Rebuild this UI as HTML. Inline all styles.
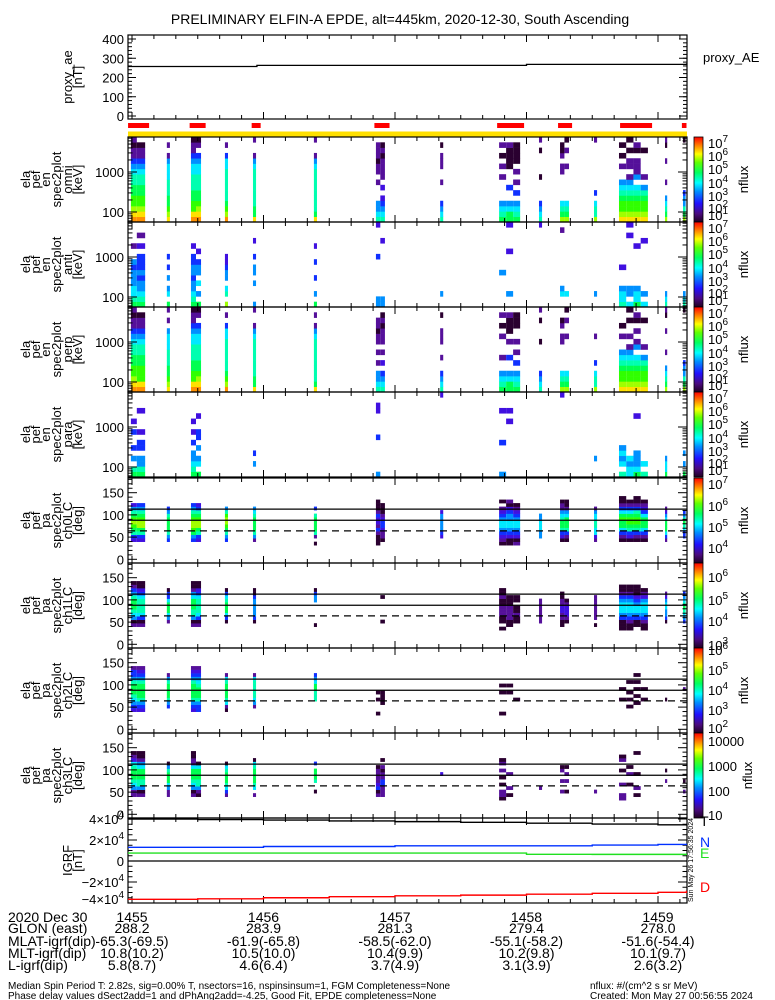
<!DOCTYPE html>
<html><head><meta charset="utf-8"><style>
html,body{margin:0;padding:0;background:#fff;}
svg{display:block;font-family:"Liberation Sans",sans-serif;}
</style></head><body>
<svg id="chart" width="775" height="1000" viewBox="0 0 775 1000" xmlns="http://www.w3.org/2000/svg">
<defs>
<linearGradient id="cbar" x1="0" y1="1" x2="0" y2="0">
<stop offset="0" stop-color="#200020"/><stop offset="0.1" stop-color="#4a0a80"/><stop offset="0.22" stop-color="#2010ff"/><stop offset="0.36" stop-color="#0090ff"/><stop offset="0.46" stop-color="#00ffff"/><stop offset="0.58" stop-color="#00ff60"/><stop offset="0.7" stop-color="#60ff00"/><stop offset="0.8" stop-color="#ffff00"/><stop offset="0.9" stop-color="#ff8000"/><stop offset="1" stop-color="#ff0000"/>
</linearGradient>
</defs>
<text x="400" y="24" font-size="14" text-anchor="middle">PRELIMINARY ELFIN-A EPDE, alt=445km, 2020-12-30, South Ascending</text>
<g id="g"></g>
</svg>
<script>
// ---- data ----
const aeTimes = [-2, 57, 180, 253];
const aeValues = [257, 263, 268, 270];
const redBarStart = [-1.8, 26.3, 54.6, 110.6, 166.6, 194.4, 222.7, 250.9];
const redBarEnd = [7.8, 33.6, 58.7, 117.5, 178.9, 200.8, 237.3, 253];
const colStart = [-0.5,2.2,15.9,26.9,29.2,42.4,55.2,83.0,111.3,113.3,140.6,167.5,170.7,173.9,185.7,195.3,197.3,210.8,222.2,225.5,228.8,232.1,243.2,251.4];
const colDur = [2.7,3.8,1.4,2.3,2.3,1.4,1.4,1.4,2.0,2.1,1.4,3.2,3.2,3.2,1.4,2.0,2.1,1.4,3.3,3.3,3.3,3.3,1.0,1.2];
const omniLevels = ["cba9988776542212","cba998877654221.","ba98877766652.2.","cb99887776654221","cba9887776654.21","ca98777777664.2.","b887777777652..2","b877777777652..2","7655...2.221222.","76543.3.2222121.","7654...2..222.1.","8765....2.2.1.2.","8865..4...11112.","8765.4.2.2.1111.","7654....1....1.2","a876.....22.211.","a876......2..2.1","a776.4.........2","ba998765..2.1.1.","ba9987652.22.1.1","ba99876.5222.12.","ba99875.2....1..","a8765..2...2..12","a87554.........1"];
const antiLevels = ["876655545..2....","8765545444.3.2..","8.65.5.4.4......","8765545544.3....","8.5.6.554.3.....","a.76.55433......","5...5.55.4..3...","8.5..4..4..3....","55.......4.....3","55..........3...","..5.............","......5.........","..5.......3....3","................","...............3","..65..........2.","..6.............","..5.............","7665...3........","6.55.........3.3","8665.......3....","6.5.........3...","765.............","765............."];
const perpLevels = ["cba9988776542212","cb9998877654221.","ba9887776665.2.2","cb99887776654221","cba9887776654.21","ca98777777664.2.","b887777777652..2","b877777777652.2.","7655.2.2.22122..","7654.3.2.222121.","7654..2..222..1.","8765..2...2.1.2.","8865..4..2.1112.","8765.4.2.2..111.","7654.....1...1.2","a876.....22.21..","a876......2..2.1","a776.4....2.....","ba998765..2.1...","ba9987652.2..1.1","ba99876.52.2.12.","ba99875.2....1..","a8765..2...2..12","a87554.........1"];
const paraLevels = ["87.5.4..4.3.....","8755.44.3...3...","................","87655.4.3.3.....","8.65.5.44..3....","................","..5.4...........","................","5......4....33..","................","...............3","5.....4.....3...","..........3.3...","................","................","...............3","................","...5............","7.6565..........","6656............","86555......3....","7.6.............","8665............","8.5.5..........."];
const ch0Levels = ["...34789a98753..","...3478aa98754..","...4578888754...","...4589aa98754..","...3478aa98743..","...45789aa975...","...2578888765...","..1.2788887.4...","..1112423342111.","...12234432111..","....34555553....","..12345665432.1.","..1134566554312.","..213456654321..","....5566655.....","...134788765221.","...124788865211.","...2366776652...","...1246889864211","...134789986421.","...1247899874211","...124688864321.","...2468886532...","....44678754...."];
const ch1Levels = ["...2156788875421","...2146777764311","....2568886441..","...2157788865211","...2146777764311","....1468887641..","....1455555411..","...1......5541..","................","....1......1....","................","..1.1122211211..","...112222111....","....11211.11....","....2222222.....","...1122332211...","....1233321.....","...1.2222222....","..1114566654211.","..1124566654211.","...114566543111.","..112456665321..","....145566532...","....456787654..."];
const ch2Levels = ["...3456788875442","...3457888875432","....4578888752..","...3457888875432","...4457888765432","...12678888762..","....2567777762..","......77788654..","..1...1.1.......",".....1111.......","................","..1.....1.1.....","........1.1.....","......1.........","................","................","................","................","......1..1......","....1.1.1..1....",".....1.1.1.1.1..","......1..1......","......1.........",".........2......"];
const ch3Levels = ["...2256788876321","...2157788865211","...2256888751...","...2156788862211","...1257788861...","...2467888761...","...2.678888761..","....1..7888.4...","...214322221....","...222442212.1..",".........3......","..122.1.1.2.21..","...1.2...2......","................",".....2..........","....2..2..21....","....1..2.2.1....","....2...........","..22..2...1..21.","......1..2.1....","...1.2...1.....1","................",".......2..1.....","....2..1........"];
const igrfTimes = [-2, 30, 60, 90, 120, 150, 180, 210, 240, 253];
const igrfT = [40000, 39500, 39000, 38200, 37500, 36800, 36000, 35200, 34500, 34300];
const igrfN = [13000, 13000, 13800, 13800, 14500, 14500, 14500, 15200, 15800, 15800];
const igrfE = [7600, 7600, 7600, 7600, 7600, 7600, 6400, 6300, 6300, 6300];
const igrfD = [-36500, -36000, -35000, -34000, -33200, -32500, -31600, -30800, -29800, -29000];
const timeTicks = [0, 60, 120, 180, 240];
const timeLabels = ["1455","1456","1457","1458","1459"];
const glon = ["288.2","283.9","281.3","279.4","278.0"];
const mlat = ["-65.3(-69.5)","-61.9(-65.8)","-58.5(-62.0)","-55.1(-58.2)","-51.6(-54.4)"];
const mlt = ["10.8(10.2)","10.5(10.0)","10.4(9.9)","10.2(9.8)","10.1(9.7)"];
const lval = ["5.8(8.7)","4.6(6.4)","3.7(4.9)","3.1(3.9)","2.6(3.2)"];

// ---- helpers ----
const NS = "http://www.w3.org/2000/svg";
const G = document.getElementById('g');
const X0 = 128, X1 = 687;
function xT(s){ return 132 + s/60*131.5; }
function mk(tag, attrs, parent){ const e = document.createElementNS(NS, tag); for (const k in attrs) e.setAttribute(k, attrs[k]); (parent||G).appendChild(e); return e; }
function txt(x,y,s,size,anchor,fill,parent){ const t = mk('text',{x:x,y:y,'font-size':size,'text-anchor':anchor||'start',fill:fill||'#000'},parent); t.textContent = s; return t; }
const LC = {'1':'#2a0030','2':'#55109a','3':'#4010e0','4':'#1030ff','5':'#0090ff','6':'#00e8ff','7':'#00ffb0','8':'#00ff50','9':'#30ff00','a':'#a0ff00','b':'#ffe000','c':'#ff9000','d':'#ff1010'};

function frame(top, bot, name){
  const g = mk('g',{});
  
  
  mk('rect',{x:X0,y:top,width:X1-X0,height:bot-top,fill:'none',stroke:'#000','stroke-width':1.2},g);
  for (let s=-0; s<=253; s+=10){
    const x = xT(s); if (x<X0||x>X1) continue;
    const L = (s%60===0)?7:4;
    mk('line',{x1:x,y1:bot,x2:x,y2:bot-L,stroke:'#000'},g);
    mk('line',{x1:x,y1:top,x2:x,y2:top+L,stroke:'#000'},g);
  }
  return g;
}
function ylabel(lines, top, bot, name){
  const g = mk('g',{});
  
  
  const cy = (top+bot)/2;
  const xs = [30,40,50,61,72,82];
  const off = xs.length - lines.length;
  lines.forEach((l,i)=>{
    const x = xs[i+off];
    const t = txt(0,0,l,13,'middle','#000',g);
    t.setAttribute('transform','translate('+x+','+cy+') rotate(-90)');
  });
}
function cbar(top, bot, labels, offs, name){
  const g = mk('g',{});
  
  
  mk('rect',{x:694,y:top,width:9,height:bot-top,fill:'url(#cbar)',stroke:'#000','stroke-width':0.8},g);
  labels.forEach((l,i)=>{
    const y = top + offs[i];
    const t = txt(708,y+5,'',13,'start','#000',g);
    if (l.indexOf('^')>=0){
      const p = l.split('^');
      const a = document.createElementNS(NS,'tspan'); a.textContent = p[0]; t.appendChild(a);
      const b = document.createElementNS(NS,'tspan'); b.textContent = p[1]; b.setAttribute('dy','-6'); b.setAttribute('font-size','10'); t.appendChild(b);
    } else t.textContent = l;
  });
  const n = txt(0,0,'nflux',13,'middle','#000',g);
  n.setAttribute('transform','translate('+(name.indexOf('ch3')>=0?752:748)+','+((top+bot)/2)+') rotate(-90)');
}

// ---- proxy AE ----
(function(){
  const top=35, bot=119;
  const yA = v => 116 - v*0.1925;
  frame(top,bot,'proxy-ae-panel');
  [0,100,200,300,400].forEach(v=>{ txt(124,yA(v)+5,String(v),13,'end'); mk('line',{x1:X0,y1:yA(v),x2:X0+8,y2:yA(v),stroke:'#000'}); mk('line',{x1:X1,y1:yA(v),x2:X1-8,y2:yA(v),stroke:'#000'}); });
  for (let v=0; v<=400; v+=20){ mk('line',{x1:X0,y1:yA(v),x2:X0+4,y2:yA(v),stroke:'#000'}); mk('line',{x1:X1,y1:yA(v),x2:X1-4,y2:yA(v),stroke:'#000'}); }
  let d='';
  aeTimes.forEach((t,i)=>{ const x=Math.max(X0,Math.min(X1,xT(t))); const y=yA(aeValues[i]); if(i===0) d+='M'+x+','+y; else { d+='H'+x+'V'+y; } });
  d += 'H'+X1;
  const p = mk('path',{d:d,fill:'none',stroke:'#000','stroke-width':1.3});
  
  
  ylabel(['proxy_ae','[nT]'],top,bot,'proxy-ae-axis-title');
  txt(703,62,'proxy_AE',13,'start');
})();

// ---- red/yellow bars ----
redBarStart.forEach((s,i)=>{
  const x = Math.max(X0,xT(s)), x2 = Math.min(X1,xT(redBarEnd[i]));
  const r = mk('rect',{x:x,y:123,width:x2-x,height:5,fill:'#ff0000'});
  
  
});
(function(){ const r = mk('rect',{x:X0,y:131.5,width:X1-X0,height:5,fill:'#ffe000'});
  
   })();

// ---- energy panels ----
function energyPanel(top, levels, name, title){
  const bot = top+85;
  const yE = lg => bot - (lg-1.75)*40;
  const g = mk('g',{});
  
  
  const nb = 16, dl = (3.875-1.75)/nb;
  levels.forEach((str,ci)=>{
    const x = xT(colStart[ci]), w = xT(colStart[ci]+colDur[ci]) - x;
    for (let b=0;b<nb;b++){
      const c = str[b]; if (!c || c==='.') continue;
      const y1 = yE(1.75+(b+1)*dl), y2 = yE(1.75+b*dl);
      mk('rect',{x:x.toFixed(2),y:y1.toFixed(2),width:w.toFixed(2),height:(y2-y1+0.3).toFixed(2),fill:LC[c]},g);
    }
  });
  frame(top,bot,name+'-frame');
  [100,1000].forEach(v=>{ txt(124,yE(Math.log10(v))+5,String(v),13,'end'); });
  for (let dec=1; dec<=3; dec++) for (let m=1;m<10;m++){
    const lg = dec+Math.log10(m); if (lg<1.75||lg>3.875) continue;
    const L = m===1?9:4.5;
    mk('line',{x1:X0,y1:yE(lg),x2:X0+L,y2:yE(lg),stroke:'#000'});
    mk('line',{x1:X1,y1:yE(lg),x2:X1-L,y2:yE(lg),stroke:'#000'});
  }
  ylabel(['ela','pef','en','spec2plot',title,'[keV]'],top,bot,name+'-axis-title');
  cbar(top,bot,['10^7','10^6','10^5','10^4','10^3','10^2','10^1'],[6,19,32,46,59,71,78],name+'-colorbar');
}
energyPanel(137, omniLevels, 'omni-spectrogram','omni');
energyPanel(222, antiLevels, 'anti-spectrogram','anti');
energyPanel(307, perpLevels, 'perp-spectrogram','perp');
energyPanel(392, paraLevels, 'para-spectrogram','para');

// ---- pitch angle panels ----
const PA0 = 16, PAW = 7.9;
function paPanel(top, levels, name, title, cbl, cbo){
  const bot = top+85;
  const yP = d => top + 81.3 - d*0.444;
  const g = mk('g',{});
  
  
  levels.forEach((str,ci)=>{
    const x = xT(colStart[ci]), w = xT(colStart[ci]+colDur[ci]) - x;
    for (let b=0;b<16;b++){
      const c = str[b]; if (!c || c==='.') continue;
      const y1 = yP(PA0+(b+1)*PAW), y2 = yP(PA0+b*PAW);
      mk('rect',{x:x.toFixed(2),y:y1.toFixed(2),width:w.toFixed(2),height:(y2-y1+0.3).toFixed(2),fill:LC[c]},g);
    }
  });
  mk('line',{x1:X0,y1:yP(113),x2:X1,y2:yP(113),stroke:'#000','stroke-width':1.2});
  mk('line',{x1:X0,y1:yP(88),x2:X1,y2:yP(88),stroke:'#000','stroke-width':1.2});
  mk('line',{x1:X0,y1:yP(64),x2:X1,y2:yP(64),stroke:'#000','stroke-width':1.2,'stroke-dasharray':'7,5'});
  frame(top,bot,name+'-frame');
  [0,50,100,150].forEach(v=>{ txt(124,yP(v)+5,String(v),13,'end'); });
  for (let v=0; v<=180; v+=10){
    const L = v%50===0?9:4.5;
    mk('line',{x1:X0,y1:yP(v),x2:X0+L,y2:yP(v),stroke:'#000'});
    mk('line',{x1:X1,y1:yP(v),x2:X1-L,y2:yP(v),stroke:'#000'});
  }
  ylabel(['ela','pef','pa','spec2plot',title,'[deg]'],top,bot,name+'-axis-title');
  cbar(top,bot,cbl,cbo,name+'-colorbar');
}
paPanel(478, ch0Levels, 'ch0lc-pitch-spectrogram','ch0LC',['10^7','10^6','10^5','10^4'],[6,28,49,70]);
paPanel(563, ch1Levels, 'ch1lc-pitch-spectrogram','ch1LC',['10^6','10^5','10^4','10^3'],[14,37,58,82]);
paPanel(648, ch2Levels, 'ch2lc-pitch-spectrogram','ch2LC',['10^6','10^5','10^4','10^3','10^2'],[2,22,42,62,80]);
paPanel(733, ch3Levels, 'ch3lc-pitch-spectrogram','ch3LC',['10000','1000','100','10'],[8,33,58,82]);

// ---- IGRF ----
(function(){
  const top=818, bot=903;
  const yB = v => 861 - v/20000*21;
  frame(top,bot,'igrf-panel');
  [[40000,'4×10'],[20000,'2×10'],[0,'0'],[-20000,'−2×10'],[-40000,'−4×10']].forEach(([v,l])=>{
    const t = txt(124,Math.min(yB(v)+5,904),'',13,'end');
    const a = document.createElementNS(NS,'tspan'); a.textContent = l; t.appendChild(a);
    if (v!==0){ const b = document.createElementNS(NS,'tspan'); b.textContent='4'; b.setAttribute('dy','-6'); b.setAttribute('font-size','10'); t.appendChild(b); }
  });
  for (let v=-40000; v<=40000; v+=5000){
    const L = v%20000===0?9:4.5;
    mk('line',{x1:X0,y1:yB(v),x2:X0+L,y2:yB(v),stroke:'#000'});
    mk('line',{x1:X1,y1:yB(v),x2:X1-L,y2:yB(v),stroke:'#000'});
  }
  mk('line',{x1:X0,y1:yB(0),x2:X1,y2:yB(0),stroke:'#000','stroke-width':1.2});
  [[igrfT,'#000','igrf-t-line'],[igrfN,'#0030ff','igrf-n-line'],[igrfE,'#20e020','igrf-e-line'],[igrfD,'#ff0000','igrf-d-line']].forEach(([arr,col,nm])=>{
    let d='';
    igrfTimes.forEach((t,i)=>{ const x=Math.max(X0,Math.min(X1,xT(t))); const y=yB(arr[i]); d += (i===0?'M'+x+','+y:'H'+x+'V'+y); });
    d += 'H'+X1;
    const p = mk('path',{d:d,fill:'none',stroke:col,'stroke-width':1.4});
    
    
  });
  ylabel(['IGRF','[nT]'],top,bot,'igrf-axis-title');
  txt(700,826,'T',14,'start','#000'); txt(700,847,'N',14,'start','#0030ff'); txt(700,858,'E',14,'start','#20e020'); txt(700,892,'D',14,'start','#ff0000');
  const s = txt(0,0,'Sun May 26 17:56:35 2024',7,'middle','#000');
  s.setAttribute('transform','translate(693,860) rotate(-90)');
})();

// ---- time labels ----
(function(){
  const g = mk('g',{});
  
  
  txt(8,922,'2020 Dec 30',14,'start','#000',g);
  txt(8,933,'GLON (east)',14,'start','#000',g);
  txt(8,946,'MLAT-igrf(dip)',14,'start','#000',g);
  txt(8,958,'MLT-igrf(dip)',14,'start','#000',g);
  txt(8,970,'L-igrf(dip)',14,'start','#000',g);
  timeTicks.forEach((s,i)=>{
    const x = xT(s);
    txt(x,922,timeLabels[i],14,'middle','#000',g);
    txt(x,933,glon[i],14,'middle','#000',g);
    txt(x,946,mlat[i],14,'middle','#000',g);
    txt(x,958,mlt[i],14,'middle','#000',g);
    txt(x,970,lval[i],14,'middle','#000',g);
  });
  txt(8,989,'Median Spin Period T: 2.82s, sig=0.00% T, nsectors=16, nspinsinsum=1, FGM Completeness=None',10,'start','#000',g);
  txt(8,999,'Phase delay values dSect2add=1 and dPhAng2add=-4.25, Good Fit, EPDE completeness=None',10,'start','#000',g);
  txt(590,989,'nflux: #/(cm^2 s sr MeV)',10,'start','#000',g);
  txt(590,999,'Created: Mon May 27 00:56:55 2024',10,'start','#000',g);
})();
</script>
</body></html>
